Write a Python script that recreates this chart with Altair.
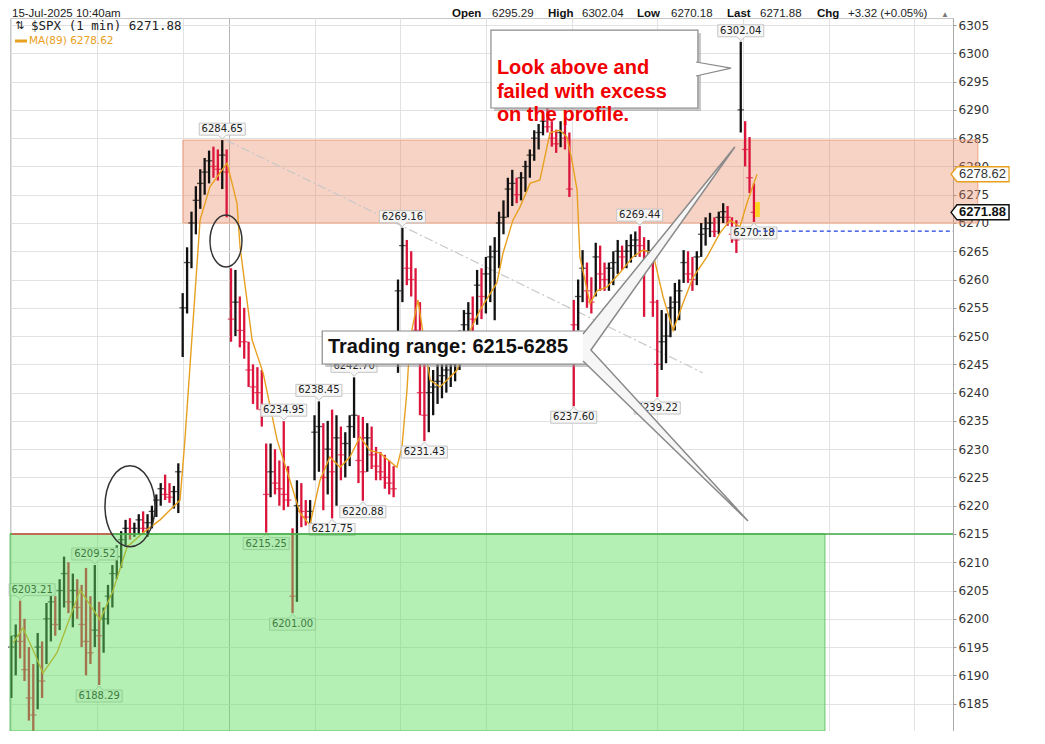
import altair as alt
import pandas as pd

# ---------------- data ----------------
# trading minutes since 1-Jul 09:30, sampled every 20 minutes
bar_minute = list(range(0, 3400, 20))
bar_high = [6197, 6199, 6203.21, 6200, 6195, 6192, 6197.5, 6196, 6202.8, 6205,
            6204, 6207, 6211, 6210, 6208, 6207, 6206, 6209, 6204, 6209.52,
            6203, 6202, 6206, 6209.5, 6213, 6215.5, 6217.5, 6217.8, 6217, 6218.5,
            6219, 6218.5, 6220, 6222, 6224, 6225.5, 6224, 6223.5, 6227.5, 6257.6,
            6265.7, 6272, 6276.5, 6279.5, 6281.5, 6282.8, 6283.5, 6283, 6284.65, 6283,
            6262, 6261.7, 6257, 6255, 6249, 6245, 6244.5, 6244, 6231, 6231,
            6230, 6228, 6234.95, 6227, 6216, 6224.5, 6224, 6221, 6221, 6236,
            6238.45, 6234.6, 6235, 6237, 6236, 6234, 6233, 6236, 6242.70, 6236,
            6235.7, 6234.6, 6234, 6230.4, 6229.5, 6229, 6228, 6227, 6260, 6269.16,
            6267, 6265, 6262, 6256, 6245, 6244.5, 6244, 6245, 6246, 6246,
            6247, 6248, 6251, 6254.6, 6256, 6257, 6261.7, 6262, 6264, 6266,
            6267.5, 6272, 6274, 6278, 6279.4, 6278, 6279, 6281, 6283, 6286.4,
            6287.5, 6289, 6290.5, 6288, 6286.5, 6288, 6287.5, 6286, 6256.4, 6260,
            6265.2, 6263, 6260.4, 6266.5, 6266, 6263, 6263, 6265, 6267, 6266,
            6267, 6268, 6268.5, 6269.44, 6267.5, 6267, 6264.7, 6256.4, 6254.6, 6254,
            6257, 6259.4, 6260, 6265.2, 6265, 6264, 6265, 6270, 6271, 6271.8,
            6271, 6272, 6273.5, 6273, 6271, 6270.5, 6302.04, 6288, 6285.2, 6277]
bar_low = [6186, 6190, 6193, 6189, 6182, 6178.2, 6184, 6186, 6192, 6196,
           6197, 6198, 6202, 6201, 6198.5, 6200, 6195, 6190, 6192, 6195,
           6188.29, 6194, 6199, 6202, 6207, 6209, 6213, 6214, 6214.5, 6215,
           6215, 6214.5, 6216, 6218, 6220, 6221, 6220.5, 6219.5, 6218.7, 6246.3,
           6254, 6262, 6268, 6272.5, 6275, 6277, 6278, 6277.5, 6276, 6271,
           6249, 6250, 6248, 6246, 6241, 6238, 6237, 6234, 6215.25, 6221.5,
           6222, 6220, 6219.2, 6219.8, 6201.0, 6203, 6216.2, 6216.5, 6216.2, 6224.5,
           6226, 6219.2, 6222, 6217.75, 6220, 6224.5, 6225, 6227, 6232, 6224,
           6220.88, 6226, 6226.5, 6224.5, 6224.5, 6223, 6222, 6221.5, 6243.5, 6256,
           6259, 6257, 6248, 6236, 6231.43, 6233, 6236, 6238, 6239, 6240,
           6241, 6242, 6244, 6247, 6248, 6250, 6252, 6253, 6254, 6256,
           6252.8, 6262, 6268, 6271, 6273, 6273.5, 6274, 6275.5, 6278, 6281,
           6283, 6285.5, 6286, 6283.5, 6282.4, 6283.4, 6283, 6274.6, 6237.60, 6251,
           6256, 6255, 6254, 6257, 6258, 6258, 6258, 6259, 6261, 6261.7,
           6262, 6263, 6264, 6264, 6253.4, 6262, 6253.4, 6239.22, 6244, 6245.2,
           6249.8, 6251, 6252.8, 6259.4, 6259.4, 6258, 6259, 6264, 6266, 6267.5,
           6267.5, 6268, 6270, 6269.5, 6266.5, 6264.7, 6286, 6280, 6275.3, 6270.18]
bar_close = [6195, 6197, 6196, 6191, 6186, 6183, 6195, 6189, 6200, 6203,
             6199, 6205, 6208, 6203, 6205, 6202, 6199, 6196, 6194, 6198,
             6197, 6200, 6204, 6208, 6211, 6214, 6216, 6215, 6216, 6217.5,
             6216, 6217, 6219, 6221, 6223, 6222, 6221.5, 6222.5, 6226, 6255,
             6263, 6270, 6274, 6277, 6279, 6281, 6280, 6279.5, 6282, 6279,
             6253, 6256, 6251, 6249, 6244, 6241, 6240, 6237, 6222, 6226,
             6224, 6223, 6222, 6221, 6204, 6220, 6219, 6218, 6219, 6233,
             6234, 6225, 6230, 6226, 6232, 6229, 6231, 6234, 6236, 6228,
             6226, 6232, 6229, 6227, 6226, 6225, 6224, 6223, 6258, 6266,
             6262, 6260, 6251, 6240, 6236, 6240, 6241, 6242, 6243, 6244,
             6245, 6246, 6249, 6252, 6254, 6253, 6259, 6257, 6261, 6264,
             6265, 6270, 6271, 6276, 6277, 6275, 6278, 6280, 6282, 6285,
             6286, 6288, 6287, 6285, 6284, 6286, 6285, 6276, 6252, 6257,
             6262, 6258, 6256, 6264, 6261, 6260, 6262, 6263, 6265, 6264,
             6265, 6266, 6267, 6266, 6263, 6265, 6256, 6245, 6249, 6250,
             6255, 6256, 6258, 6263, 6261, 6260, 6264, 6268, 6269, 6270,
             6268.5, 6271, 6272, 6271, 6268, 6267, 6290, 6283, 6278, 6271.88]

ma_minute = [8, 53, 99, 144, 208, 313, 404, 463, 527, 599, 677, 768, 790, 859, 904,
             982, 1027, 1041, 1096, 1146, 1210, 1268, 1314, 1359, 1405, 1450, 1496,
             1541, 1587, 1632, 1678, 1755, 1778, 1801, 1814, 1851, 1874, 1906, 1951,
             2029, 2074, 2133, 2210, 2238, 2283, 2315, 2361, 2406, 2452, 2497, 2529,
             2552, 2575, 2588, 2634, 2666, 2711, 2770, 2829, 2875, 2920, 2966, 3012,
             3057, 3103, 3166, 3225, 3271, 3316, 3348, 3394]
ma_value = [6195.7, 6198.4, 6194.5, 6190.4, 6194.0, 6205.1, 6199.8, 6205.0, 6212.7,
            6215.2, 6217.5, 6221.0, 6231.6, 6270.5, 6276.4, 6280.6, 6273.5, 6265.8,
            6249.3, 6243.5, 6231.6, 6224.5, 6218.7, 6216.6, 6224.5, 6228.6, 6226.8,
            6228.6, 6232.2, 6229.8, 6229.3, 6226.8, 6230.4, 6240.5, 6249.3, 6256.4,
            6250.5, 6242.2, 6241.0, 6244.0, 6249.8, 6254.6, 6259.4, 6264.7, 6270.5,
            6272.8, 6277.0, 6277.6, 6286.0, 6286.4, 6285.2, 6281.0, 6275.8, 6264.0,
            6255.8, 6258.0, 6258.7, 6261.2, 6264.0, 6265.2, 6264.7, 6257.0, 6251.0,
            6255.8, 6260.4, 6264.0, 6268.2, 6270.5, 6269.3, 6273.5, 6278.6]

label_minute = [960, 1780, 1560, 1400, 1240, 1880, 1600, 1460, 1160, 1280,
                380, 40, 400, 2560, 2940, 2860, 3380, 3320]
label_value = [6284.65, 6269.16, 6242.70, 6238.45, 6234.95, 6231.43, 6220.88, 6217.75,
               6215.25, 6201.00, 6209.52, 6203.21, 6188.29, 6237.60, 6239.22, 6269.44,
               6270.18, 6302.04]
label_side = ["above", "above", "above", "above", "above", "below", "below", "below",
              "below", "below", "above", "edge", "below", "below", "below", "above",
              "below", "above"]

day_start_minute = [0, 390, 780, 990, 1380, 1770, 2160, 2550, 2940, 3330, 3720, 4110]
price_ticks = list(range(6185, 6306, 5))

last_price = 6271.88
ma_last = 6278.62
prev_close = 6268.56
zone_high = [6270.0, 6284.65]
zone_low_top = 6215.0

# ---------------- scales / encodings ----------------
X_DOM = [-6, 4286]
Y_DOM = [6180.16, 6306.25]
xs = alt.Scale(domain=X_DOM, nice=False, zero=False)
ys = alt.Scale(domain=Y_DOM, nice=False, zero=False)
xaxis = alt.Axis(values=day_start_minute, labels=False, ticks=False, domain=False,
                 grid=True, title=None,
                 gridColor={"condition": {"test": "datum.value === 990", "value": "#b5b5b5"},
                            "value": "#e2e2e2"})
yaxis = alt.Axis(orient="right", values=price_ticks, format="d", grid=True, gridColor="#e2e2e2",
                 labelFont="DejaVu Sans", labelFontSize=12, labelColor="#333",
                 tickSize=3, tickColor="#999", domainColor="#aaa", labelPadding=2,
                 title=None, labelOverlap=False)
X = alt.X("t:Q", scale=xs, axis=xaxis)
Y = alt.Y("p:Q", scale=ys, axis=yaxis)
X2 = alt.X2("t2:Q")
Y2 = alt.Y2("p2:Q")

dirs = ["up" if i == 0 or bar_close[i] >= bar_close[i - 1] else "down"
        for i in range(len(bar_close))]
bars = pd.DataFrame({"t": bar_minute, "p": bar_low, "p2": bar_high, "dir": dirs})
closes = pd.DataFrame({"t": bar_minute, "p": bar_close, "dir": dirs})
dir_color = alt.Color("dir:N", scale=alt.Scale(domain=["up", "down"],
                                               range=["#111111", "#dc143c"]), legend=None)

layers = []

# resistance zone (extends past the axis)
layers.append(alt.Chart(pd.DataFrame({"t": [781], "t2": [4399], "p": [zone_high[0]],
                                      "p2": [zone_high[1]]}))
              .mark_rect(fill="#e8805a", fillOpacity=0.35, stroke="#eea27f", strokeWidth=1)
              .encode(x=X, x2=X2, y=Y, y2=Y2))

# dash-dot trend line
layers.append(alt.Chart(pd.DataFrame({"t": [977], "t2": [3147], "p": [6284.65], "p2": [6243.5]}))
              .mark_rule(color="#c8c8c8", strokeWidth=1.2, strokeDash=[9, 3, 2, 3])
              .encode(x=X, x2=X2, y=Y, y2=Y2))

# price bars
layers.append(alt.Chart(bars).mark_rule(strokeWidth=2.3)
              .encode(x=X, y=Y, y2=Y2, color=dir_color))
layers.append(alt.Chart(closes).mark_point(shape="stroke", size=42, strokeWidth=1.3)
              .encode(x=X, y=Y, color=dir_color))

# moving average
layers.append(alt.Chart(pd.DataFrame({"t": ma_minute, "p": ma_value}))
              .mark_line(color="#e8a020", strokeWidth=1.4).encode(x=X, y=Y))

# current bar highlight
layers.append(alt.Chart(pd.DataFrame({"t": [3385], "t2": [3407], "p": [6271.06], "p2": [6273.7]}))
              .mark_rect(fill="#ffd21f").encode(x=X, x2=X2, y=Y, y2=Y2))

# price labels
labels = pd.DataFrame({"t": label_minute, "p": label_value, "side": label_side,
                       "lab": [f"{v:.2f}" for v in label_value]})
BOX_ABOVE = "M-23,-17L23,-17L23,-5L4,-5L0,-1L-4,-5L-23,-5Z"
BOX_BELOW = "M-23,17L23,17L23,5L4,5L0,1L-4,5L-23,5Z"
BOX_EDGE = "M-11,-17L35,-17L35,-5L4,-5L0,-1L-4,-5L-11,-5Z"
for side, shape, dx, dy in [("above", BOX_ABOVE, 0, -11), ("below", BOX_BELOW, 0, 11),
                            ("edge", BOX_EDGE, 12, -11)]:
    d = labels[labels.side == side]
    layers.append(alt.Chart(d).mark_point(shape=shape, size=4, filled=True, fill="#f7f7f7",
                                          fillOpacity=0.95, stroke="#c4c4c4", strokeWidth=1,
                                          opacity=1)
                  .encode(x=X, y=Y))
    layers.append(alt.Chart(d).mark_text(dx=dx, dy=dy, fontSize=10, font="DejaVu Sans",
                                         color="#222")
                  .encode(x=X, y=Y, text="lab:N"))

# support zone (drawn over the bars)
layers.append(alt.Chart(pd.DataFrame({"t": [X_DOM[0]], "t2": [3703], "p": [Y_DOM[0]],
                                      "p2": [zone_low_top]}))
              .mark_rect(fill="#5fdc5f", fillOpacity=0.47, stroke="#6cc46c", strokeWidth=1)
              .encode(x=X, x2=X2, y=Y, y2=Y2))
layers.append(alt.Chart(pd.DataFrame({"t": [X_DOM[0]], "t2": [X_DOM[1]], "p": [zone_low_top]}))
              .mark_rule(color="#43a843", strokeWidth=1.6).encode(x=X, x2=X2, y=Y))
layers.append(alt.Chart(pd.DataFrame({"t": [3], "t2": [463], "p": [zone_low_top]}))
              .mark_rule(color="#e05555", strokeWidth=1.6).encode(x=X, x2=X2, y=Y))

# previous close
layers.append(alt.Chart(pd.DataFrame({"t": [3393], "t2": [X_DOM[1]], "p": [prev_close]}))
              .mark_rule(color="#1f3fdc", strokeWidth=1.3, strokeDash=[4, 3])
              .encode(x=X, x2=X2, y=Y))

# ellipses
layers.append(alt.Chart(pd.DataFrame({"t": [540], "p": [6219.9]}))
              .mark_point(shape="M-25,0A25,40.5,0,1,0,25,0A25,40.5,0,1,0,-25,0Z", size=4,
                          filled=False, stroke="#333", strokeWidth=1.5, opacity=1)
              .encode(x=X, y=Y))
layers.append(alt.Chart(pd.DataFrame({"t": [977], "p": [6266.8]}))
              .mark_point(shape="M-16,0A16,26,0,1,0,16,0A16,26,0,1,0,-16,0Z", size=4,
                          filled=False, stroke="#333", strokeWidth=1.5, opacity=1)
              .encode(x=X, y=Y))

# callout 1: "Look above ..."
layers.append(alt.Chart(pd.DataFrame({"t": [2197], "t2": [3139], "p": [6289.8], "p2": [6303.59]}))
              .mark_rect(fill="#9a9a9a", opacity=0.55).encode(x=X, x2=X2, y=Y, y2=Y2))
layers.append(alt.Chart(pd.DataFrame({"t": [2183], "t2": [3125], "p": [6290.33], "p2": [6304.12]}))
              .mark_rect(fill="white", stroke="#8a8a8a", strokeWidth=1.2)
              .encode(x=X, x2=X2, y=Y, y2=Y2))
layers.append(alt.Chart(pd.DataFrame({"t": [3116, 3276, 3116], "p": [6298.47, 6297.4, 6295.99],
                                      "o": [0, 1, 2]}))
              .mark_line(fill="white", stroke="#8a8a8a", strokeWidth=1.2)
              .encode(x=X, y=Y, order="o:Q"))
layers.append(alt.Chart(pd.DataFrame({"t": [2210], "p": [6297.32],
                                      "txt": ["Look above and\nfailed with excess\non the profile."]}))
              .mark_text(align="left", baseline="middle", lineBreak="\n", lineHeight=23.5,
                         font="Liberation Sans", fontSize=20, fontWeight="bold", color="#f00000")
              .encode(x=X, y=Y, text="txt:N"))

# callout 2: trading range
layers.append(alt.Chart(pd.DataFrame({"t": [1429], "t2": [2629], "p": [6244.53], "p2": [6250.37]}))
              .mark_rect(fill="#9a9a9a", opacity=0.55).encode(x=X, x2=X2, y=Y, y2=Y2))
layers.append(alt.Chart(pd.DataFrame({"t": [1415], "t2": [2615], "p": [6245.06], "p2": [6250.9]}))
              .mark_rect(fill="white", stroke="#8a8a8a", strokeWidth=1.2)
              .encode(x=X, x2=X2, y=Y, y2=Y2))
layers.append(alt.Chart(pd.DataFrame({"t": [2602, 3293, 2638, 3353, 2602],
                                      "p": [6250.37, 6283.43, 6247.54, 6217.3, 6245.59],
                                      "o": [0, 1, 2, 3, 4]}))
              .mark_line(fill="#f6f6f6", stroke="#8a8a8a", strokeWidth=1.5)
              .encode(x=X, y=Y, order="o:Q"))
layers.append(alt.Chart(pd.DataFrame({"t": [1441], "p": [6247.98], "txt": ["Trading range: 6215-6285"]}))
              .mark_text(align="left", baseline="middle", font="Liberation Sans", fontSize=20,
                         fontWeight="bold", color="#111")
              .encode(x=X, y=Y, text="txt:N"))

# axis-side value tags
TAG = "M0,0L6,-7.5L58,-7.5L58,7.5L6,7.5Z"
layers.append(alt.Chart(pd.DataFrame({"t": [4277], "p": [ma_last]}))
              .mark_point(shape=TAG, size=4, filled=True, fill="white", stroke="#e8a020",
                          strokeWidth=1.3, opacity=1).encode(x=X, y=Y))
layers.append(alt.Chart(pd.DataFrame({"t": [4277], "p": [ma_last], "txt": [f"{ma_last:.2f}"]}))
              .mark_text(align="left", dx=8, font="Liberation Sans", fontSize=13, color="#333")
              .encode(x=X, y=Y, text="txt:N"))
layers.append(alt.Chart(pd.DataFrame({"t": [4277], "p": [last_price]}))
              .mark_point(shape=TAG, size=4, filled=True, fill="white", stroke="#111",
                          strokeWidth=1.5, opacity=1).encode(x=X, y=Y))
layers.append(alt.Chart(pd.DataFrame({"t": [4277], "p": [last_price], "txt": [f"{last_price:.2f}"]}))
              .mark_text(align="left", dx=8, font="Liberation Sans", fontSize=13,
                         fontWeight="bold", color="#111")
              .encode(x=X, y=Y, text="txt:N"))

# header and in-chart legend
one = pd.DataFrame({"a": [0]})
HF = 11.5
header = [("15-Jul-2025 10:40am", 2, "normal", "#222", HF),
          ("Open", 442, "bold", "#111", HF), ("6295.29", 482, "normal", "#222", HF),
          ("High", 538, "bold", "#111", HF), ("6302.04", 572, "normal", "#222", HF),
          ("Low", 627, "bold", "#111", HF), ("6270.18", 661, "normal", "#222", HF),
          ("Last", 717, "bold", "#111", HF), ("6271.88", 750, "normal", "#222", HF),
          ("Chg", 807, "bold", "#111", HF), ("+3.32 (+0.05%)", 838, "normal", "#222", HF),
          ("▲", 931, "normal", "#777", 8)]
for txt, hx, fw, col, fs in header:
    layers.append(alt.Chart(one).mark_text(align="left", baseline="alphabetic",
                                           font="Liberation Sans",
                                           fontSize=fs, fontWeight=fw, color=col)
                  .encode(x=alt.value(hx), y=alt.value(-1), text=alt.value(txt)))
layers.append(alt.Chart(one).mark_text(align="left", baseline="middle", font="DejaVu Sans",
                                       fontSize=11, color="#222")
              .encode(x=alt.value(5), y=alt.value(8), text=alt.value("⇅")))
layers.append(alt.Chart(one).mark_text(align="left", baseline="middle", font="DejaVu Sans Mono",
                                       fontSize=12.5, color="#222")
              .encode(x=alt.value(21), y=alt.value(8), text=alt.value("$SPX (1 min) 6271.88")))
layers.append(alt.Chart(one).mark_rule(color="#e8a020", strokeWidth=3)
              .encode(x=alt.value(5), x2=alt.value(17), y=alt.value(23)))
layers.append(alt.Chart(one).mark_text(align="left", baseline="middle", font="DejaVu Sans",
                                       fontSize=10.5, color="#e8a020")
              .encode(x=alt.value(19), y=alt.value(23), text=alt.value(f"MA(89) {ma_last:.2f}")))

chart = (alt.layer(*layers)
         .properties(width=943, height=713,
                     padding={"left": 2, "top": 10, "right": 84, "bottom": 0},
                     autosize=alt.AutoSizeParams(type="none"), background="white")
         .configure_view(stroke="#c8c8c8"))

chart.save("out.html", embed_options={"renderer": "svg", "actions": False})
